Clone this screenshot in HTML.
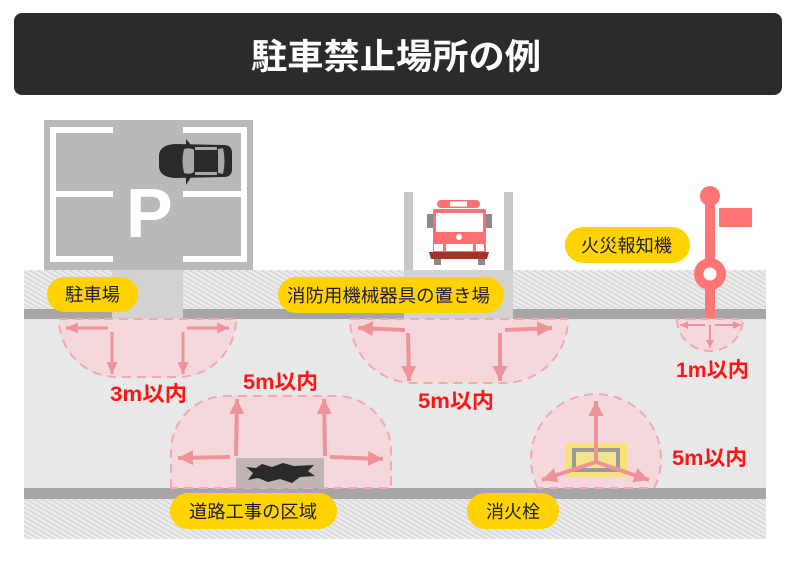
<!DOCTYPE html>
<html><head><meta charset="utf-8">
<style>
html,body{margin:0;padding:0;background:#fff;}
svg{display:block;}
.lbl{font-family:"Liberation Sans","Noto Sans CJK JP",sans-serif;font-size:18px;fill:#1c1c36;}
.red{font-family:"Liberation Sans","Noto Sans CJK JP",sans-serif;font-size:21px;font-weight:bold;fill:#ff1515;}
</style></head>
<body>
<svg width="800" height="574" viewBox="0 0 800 574" xmlns="http://www.w3.org/2000/svg">
<defs>
<pattern id="hatch" width="4" height="4" patternUnits="userSpaceOnUse" patternTransform="rotate(-60)">
<rect width="4" height="4" fill="#ebebeb"/>
<rect x="0" y="0" width="1.2" height="4" fill="#d3d3d3"/>
</pattern>
<marker id="ab" markerUnits="userSpaceOnUse" markerWidth="16" markerHeight="16" refX="15" refY="7.5" orient="auto">
<path d="M0,0 L15,7.5 L0,15 z" fill="#f0929a"/></marker>
<marker id="am" markerUnits="userSpaceOnUse" markerWidth="14" markerHeight="12" refX="12" refY="5.5" orient="auto">
<path d="M0,0 L12,5.5 L0,11 z" fill="#f0929a"/></marker>
<marker id="as" markerUnits="userSpaceOnUse" markerWidth="9" markerHeight="9" refX="8" refY="4" orient="auto">
<path d="M0,0 L8,4 L0,8 z" fill="#f0929a"/></marker>
</defs>

<!-- header -->
<rect x="14" y="13" width="768" height="82" rx="8" fill="#2b2b2b"/>
<text x="251" y="69" font-family="'Liberation Sans','Noto Sans CJK JP',sans-serif" font-size="35" font-weight="bold" fill="#fff" textLength="290" lengthAdjust="spacingAndGlyphs">駐車禁止場所の例</text>

<!-- sidewalks -->
<rect x="24" y="270" width="742" height="39" fill="url(#hatch)"/>
<rect x="24" y="499" width="742" height="40" fill="url(#hatch)"/>
<!-- road -->
<rect x="24" y="319" width="742" height="169" fill="#e8e8e8"/>
<!-- curbs -->
<rect x="24" y="309" width="742" height="10" fill="#a6a6a6"/>
<rect x="24" y="488" width="742" height="11" fill="#a6a6a6"/>

<!-- parking lot -->
<rect x="44" y="120" width="209" height="150" fill="#b9b9b9"/>
<g fill="#fff">
<rect x="50" y="127" width="6" height="135"/>
<rect x="50" y="127" width="63" height="6"/>
<rect x="50" y="191" width="63" height="6"/>
<rect x="50" y="256" width="63" height="6"/>
<rect x="241" y="127" width="6" height="135"/>
<rect x="183" y="127" width="64" height="6"/>
<rect x="183" y="191" width="64" height="6"/>
<rect x="183" y="256" width="64" height="6"/>
</g>
<text x="126" y="237" font-family="'Liberation Sans',sans-serif" font-size="70" font-weight="bold" fill="#fff">P</text>
<!-- car -->
<g>
<path d="M186,139 L191,145 L186,145 Z" fill="#2a2a2a"/>
<path d="M186,185 L191,177 L186,177 Z" fill="#2a2a2a"/>
<path d="M175,144 L224,145 Q232,145 232,153 L232,169 Q232,177 224,177 L175,178 Q159,177 159,166 L159,156 Q159,145 175,144 Z" fill="#2a2a2a"/>
<path d="M184,149 Q190,147 194,150 L194,172 Q190,175 184,173 Q181,161 184,149 Z" fill="#a9a9a9"/>
<rect x="195" y="147" width="22" height="3" fill="#a9a9a9"/>
<rect x="195" y="172" width="22" height="3" fill="#a9a9a9"/>
<path d="M218,149 L223,148 Q226,161 223,174 L218,173 Z" fill="#a9a9a9"/>
</g>
<!-- driveway -->
<rect x="112" y="270" width="71" height="49" fill="#d2d2d2"/>

<!-- fire equipment area -->
<rect x="404" y="270" width="109" height="49" fill="#d2d2d2"/>
<rect x="404" y="192" width="9" height="78" fill="#c8c8c8"/>
<rect x="504" y="192" width="9" height="78" fill="#c8c8c8"/>
<!-- fire truck -->
<g>
<rect x="437" y="200" width="43" height="8" rx="4" fill="#ff7070"/>
<rect x="450" y="201.5" width="17" height="5" fill="#fff"/>
<rect x="427" y="214" width="6" height="14" fill="#8a8a8a"/>
<rect x="486" y="214" width="6" height="14" fill="#8a8a8a"/>
<rect x="433" y="209" width="53" height="44" rx="2" fill="#ff6f6f"/>
<rect x="436" y="213" width="47" height="19" fill="#fff"/>
<circle cx="459" cy="237" r="3" fill="#fff"/>
<rect x="434" y="244" width="9" height="7" fill="#fff"/>
<rect x="446" y="244" width="27" height="7" fill="#fff"/>
<rect x="476" y="244" width="8" height="7" fill="#fff"/>
<path d="M429,252 H489 L487,259 H431 Z" fill="#a8302a"/>
<rect x="434" y="259" width="7" height="6" fill="#8a8a8a"/>
<rect x="478" y="259" width="7" height="6" fill="#8a8a8a"/>
</g>

<!-- fire alarm -->
<g fill="#ff7575">
<rect x="705" y="195" width="10" height="123"/>
<circle cx="710" cy="196" r="10"/>
<rect x="719" y="208" width="33" height="19"/>
<circle cx="710" cy="274" r="16"/>
</g>
<circle cx="710" cy="274" r="6.5" fill="#fff"/>

<!-- zones -->
<g fill="#f5d8db" stroke="#f2a9af" stroke-width="2" stroke-dasharray="9 6">
<path d="M59,319 H236 A58,58 0 0 1 178,377 H117 A58,58 0 0 1 59,319 Z"/>
<path d="M350,319 H568 A64,64 0 0 1 504,383 H414 A64,64 0 0 1 350,319 Z"/>
<path d="M171,488 V451 A55,55 0 0 1 226,396 H336 A55,55 0 0 1 391,451 V488 Z"/>
<path d="M537.8,488 A65,65 0 1 1 654.2,488 Z"/>
<path d="M677,319 A33,32 0 0 0 743,319 Z"/>
</g>

<!-- construction patch -->
<rect x="236" y="458" width="88" height="30" fill="#c0b4b4"/>
<path d="M246,467 L256,468 L262,464 L272,467 L283,463 L294,466 L314,465 L308,471 L315,476 L300,477 L292,483 L280,479 L268,482 L258,478 L248,480 L253,473 Z" fill="#2a2a2a"/>

<!-- hydrant -->
<rect x="565" y="443" width="62" height="34" fill="#f7e27a"/>
<rect x="574" y="450" width="44" height="20" fill="#f3e48c" stroke="#9a9a9a" stroke-width="4"/>

<!-- arrows -->
<g stroke="#f0929a" fill="none">
<g stroke-width="3" marker-end="url(#am)">
<line x1="108" y1="328" x2="66" y2="328"/>
<line x1="187" y1="328" x2="229" y2="328"/>
<line x1="112" y1="332" x2="112" y2="374"/>
<line x1="183" y1="332" x2="183" y2="374"/>
</g>
<g stroke-width="4" marker-end="url(#ab)">
<line x1="405" y1="330" x2="358" y2="328"/>
<line x1="505" y1="330" x2="552" y2="328"/>
<line x1="408" y1="333" x2="409" y2="381"/>
<line x1="500" y1="333" x2="500" y2="381"/>
<line x1="236" y1="456" x2="237" y2="399"/>
<line x1="325" y1="456" x2="324" y2="399"/>
<line x1="230" y1="457" x2="178" y2="458"/>
<line x1="330" y1="457" x2="383" y2="459"/>
<line x1="596" y1="462" x2="596" y2="401"/>
<line x1="596" y1="462" x2="542" y2="480"/>
<line x1="596" y1="462" x2="649" y2="480"/>
</g>
<g stroke-width="2" marker-end="url(#as)">
<line x1="705" y1="325" x2="680" y2="325"/>
<line x1="715" y1="325" x2="741" y2="325"/>
<line x1="710" y1="325" x2="710" y2="348"/>
</g>
</g>

<!-- yellow labels -->
<g fill="#ffd200">
<rect x="47" y="277" width="91" height="35" rx="17.5"/>
<rect x="278" y="277" width="226" height="36" rx="18"/>
<rect x="565" y="227" width="125" height="36" rx="18"/>
<rect x="170" y="493" width="167" height="36" rx="18"/>
<rect x="467" y="493" width="92" height="36" rx="18"/>
</g>
<text class="lbl" x="65" y="301" textLength="55" lengthAdjust="spacingAndGlyphs">駐車場</text>
<text class="lbl" x="287" y="302" textLength="203" lengthAdjust="spacingAndGlyphs">消防用機械器具の置き場</text>
<text class="lbl" x="581" y="252" textLength="91" lengthAdjust="spacingAndGlyphs">火災報知機</text>
<text class="lbl" x="189" y="518" textLength="128" lengthAdjust="spacingAndGlyphs">道路工事の区域</text>
<text class="lbl" x="486" y="518" textLength="54" lengthAdjust="spacingAndGlyphs">消火栓</text>

<!-- red distance labels -->
<text class="red" x="110" y="401" textLength="77" lengthAdjust="spacingAndGlyphs">3m以内</text>
<text class="red" x="243" y="389" textLength="75" lengthAdjust="spacingAndGlyphs">5m以内</text>
<text class="red" x="418" y="408" textLength="76" lengthAdjust="spacingAndGlyphs">5m以内</text>
<text class="red" x="676" y="377" textLength="73" lengthAdjust="spacingAndGlyphs">1m以内</text>
<text class="red" x="672" y="465" textLength="75" lengthAdjust="spacingAndGlyphs">5m以内</text>
</svg>
</body></html>
